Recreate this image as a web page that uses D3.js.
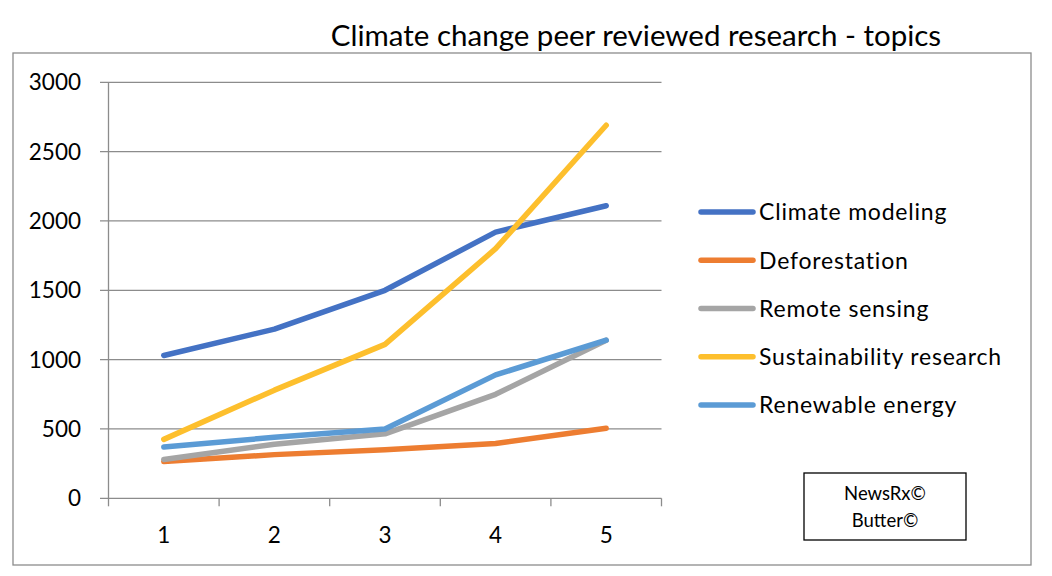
<!DOCTYPE html>
<html><head><meta charset="utf-8">
<script src="https://cdn.jsdelivr.net/npm/d3@7"></script>
<style>body{margin:0;background:#fff;} text{font-family:Lato, "Open Sans", sans-serif;}</style>
</head><body><svg id="c" width="1052" height="576"></svg>
<script>
const categories = ["1","2","3","4","5"];
const seriesNames = ["Climate modeling","Deforestation","Remote sensing","Sustainability research","Renewable energy"];
const climateModeling = [1030, 1220, 1500, 1920, 2110];
const deforestation = [265, 315, 350, 395, 505];
const remoteSensing = [280, 390, 465, 750, 1140];
const sustainabilityResearch = [425, 780, 1110, 1800, 2690];
const renewableEnergy = [370, 440, 500, 890, 1140];
const yTicks = [0, 500, 1000, 1500, 2000, 2500, 3000];
const colors = ["#4472C4","#ED7D31","#A5A5A5","#FDBF2D","#5B9BD5"];
const seriesValues = [climateModeling, deforestation, remoteSensing, sustainabilityResearch, renewableEnergy];

const svg = d3.select("#c");
svg.append("rect").attr("x",13).attr("y",53).attr("width",1018).attr("height",512)
  .attr("fill","none").attr("stroke","#8c8c8c").attr("stroke-width",1.3);

svg.append("text").attr("x",636).attr("y",46).attr("text-anchor","middle")
  .attr("font-size",29.5).attr("fill","#000").text("Climate change peer reviewed research - topics");

const x = d3.scaleBand().domain(categories).range([108.5,661.5]);
const y = d3.scaleLinear().domain([0,3000]).range([498.3,82.3]);

const g = svg.append("g");
g.selectAll("line.grid").data(yTicks).join("line").attr("class","grid")
  .attr("x1",100).attr("x2",661.5).attr("y1",d=>y(d)).attr("y2",d=>y(d))
  .attr("stroke","#8c8c8c").attr("stroke-width",1.3);
g.append("line").attr("x1",108.5).attr("x2",108.5).attr("y1",y(3000)).attr("y2",y(0))
  .attr("stroke","#8c8c8c").attr("stroke-width",1.3);
const bounds = categories.map(c=>x(c)).concat([x.range()[1]]);
g.selectAll("line.xt").data(bounds).join("line").attr("class","xt")
  .attr("x1",d=>d).attr("x2",d=>d).attr("y1",y(0)).attr("y2",y(0)+8)
  .attr("stroke","#8c8c8c").attr("stroke-width",1.3);

g.selectAll("text.yl").data(yTicks).join("text").attr("class","yl")
  .attr("x",81).attr("y",d=>y(d)).attr("dy","0.36em").attr("text-anchor","end")
  .attr("font-size",22.5).attr("fill","#000").text(d=>d);
g.selectAll("text.xl").data(categories).join("text").attr("class","xl")
  .attr("x",d=>x(d)+x.bandwidth()/2).attr("y",535).attr("dy","0.36em").attr("text-anchor","middle")
  .attr("font-size",22.5).attr("fill","#000").text(d=>d);

const line = d3.line().x((d,i)=>x(categories[i])+x.bandwidth()/2).y(d=>y(d));
g.selectAll("path.s").data(seriesValues).join("path").attr("class","s")
  .attr("d",d=>line(d)).attr("fill","none").attr("stroke",(d,i)=>colors[i])
  .attr("stroke-width",5.5).attr("stroke-linecap","round").attr("stroke-linejoin","round");

const ly = d3.scalePoint().domain(seriesNames).range([212,405]);
const lg = svg.append("g");
lg.selectAll("line").data(seriesNames).join("line")
  .attr("x1",701).attr("x2",753).attr("y1",d=>ly(d)).attr("y2",d=>ly(d))
  .attr("stroke",(d,i)=>colors[i]).attr("stroke-width",5.5).attr("stroke-linecap","round");
lg.selectAll("text").data(seriesNames).join("text")
  .attr("x",759).attr("y",d=>ly(d)).attr("dy","0.36em")
  .attr("font-size",23).attr("letter-spacing","0.8px").attr("fill","#000").text(d=>d);

svg.append("rect").attr("x",804).attr("y",473).attr("width",162).attr("height",67)
  .attr("fill","#fff").attr("stroke","#000").attr("stroke-width",1.3);
svg.append("text").attr("x",885).attr("y",500).attr("text-anchor","middle").attr("font-size",18.5).text("NewsRx©");
svg.append("text").attr("x",885).attr("y",527).attr("text-anchor","middle").attr("font-size",18.5).text("Butter©");
</script></body></html>
